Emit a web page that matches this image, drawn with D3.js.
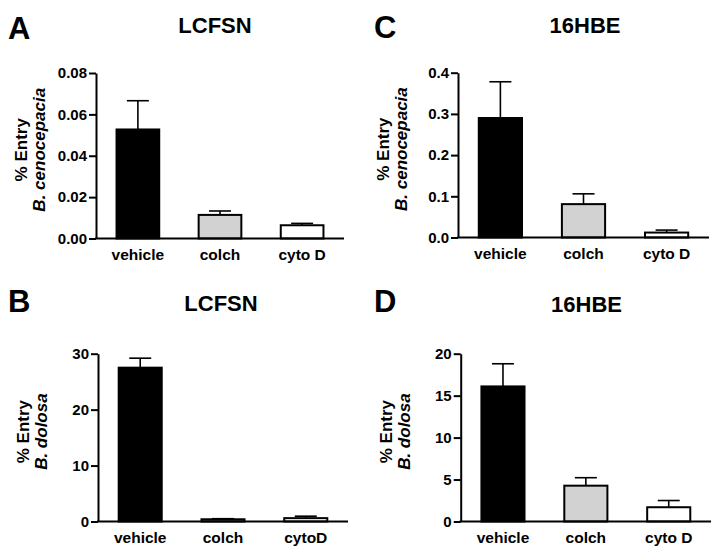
<!DOCTYPE html>
<html>
<head>
<meta charset="utf-8">
<script src="https://cdn.jsdelivr.net/npm/d3@7"></script>
<style>
  html, body { margin: 0; padding: 0; background: #fff; }
  svg { display: block; }
  text { font-family: "Liberation Sans", Arial, sans-serif; font-weight: bold; fill: #000; }
</style>
</head>
<body>
<svg id="chart" width="724" height="554"></svg>
<script>
// ---- data ----
const categoriesA = ["vehicle", "colch", "cyto D"];
const categoriesB = ["vehicle", "colch", "cytoD"];
const categoriesC = ["vehicle", "colch", "cyto D"];
const categoriesD = ["vehicle", "colch", "cyto D"];

const meanA = [0.0527, 0.0114, 0.0064];
const semA  = [0.0139, 0.0019, 0.0009];
const meanB = [27.5, 0.4, 0.6];
const semB  = [1.7, 0.1, 0.35];
const meanC = [0.29, 0.081, 0.012];
const semC  = [0.088, 0.025, 0.006];
const meanD = [16.1, 4.27, 1.7];
const semD  = [2.7, 0.95, 0.8];

const ticksA = [0, 0.02, 0.04, 0.06, 0.08];
const ticksB = [0, 10, 20, 30];
const ticksC = [0, 0.1, 0.2, 0.3, 0.4];
const ticksD = [0, 5, 10, 15, 20];

const barFills = ["#000000", "#d2d2d2", "#ffffff"];

const panels = [
  { letter: "A", title: "LCFSN", species: "B. cenocepacia", cats: categoriesA, mean: meanA, sem: semA, ticks: ticksA, fmt: ".2f",
    x0: 96, x1: 344, yTop: 73, yBot: 238.5, titleX: 215, titleY: 33, letterX: 8, letterY: 39 },
  { letter: "C", title: "16HBE", species: "B. cenocepacia", cats: categoriesC, mean: meanC, sem: semC, ticks: ticksC, fmt: ".1f",
    x0: 458, x1: 709, yTop: 72.7, yBot: 237.5, titleX: 585, titleY: 33, letterX: 374, letterY: 38 },
  { letter: "B", title: "LCFSN", species: "B. dolosa", cats: categoriesB, mean: meanB, sem: semB, ticks: ticksB, fmt: "d",
    x0: 98, x1: 348, yTop: 353.7, yBot: 521.5, titleX: 221, titleY: 311, letterX: 8, letterY: 312 },
  { letter: "D", title: "16HBE", species: "B. dolosa", cats: categoriesD, mean: meanD, sem: semD, ticks: ticksD, fmt: "d",
    x0: 460.7, x1: 711, yTop: 353.7, yBot: 521.5, titleX: 586.5, titleY: 312, letterX: 374, letterY: 312 }
];

const svg = d3.select("#chart");

panels.forEach(p => {
  const g = svg.append("g");
  const x = d3.scaleBand().domain(p.cats).range([p.x0, p.x1]).paddingInner(0.48).paddingOuter(0.25);
  const y = d3.scaleLinear().domain([p.ticks[0], p.ticks[p.ticks.length - 1]]).range([p.yBot, p.yTop]);

  // panel letter & title
  g.append("text").attr("x", p.letterX).attr("y", p.letterY)
    .style("font-size", "31px").text(p.letter);
  g.append("text").attr("x", p.titleX).attr("y", p.titleY)
    .attr("text-anchor", "middle").style("font-size", "22px").text(p.title);

  // y axis
  const yAxis = d3.axisLeft(y).tickValues(p.ticks).tickFormat(d3.format(p.fmt))
    .tickSize(7).tickSizeOuter(0).tickPadding(2);
  const ya = g.append("g").attr("transform", `translate(${p.x0},0)`).call(yAxis);
  ya.select(".domain").attr("stroke", "#000").attr("stroke-width", 2);
  ya.selectAll(".tick line").attr("stroke", "#000").attr("stroke-width", 2);
  ya.selectAll(".tick text").style("font-size", "15px").style("font-family", "'Liberation Sans', Arial, sans-serif")
    .style("font-weight", "bold").attr("fill", "#000");

  // y axis title
  const midY = (p.yTop + p.yBot) / 2 - 6;
  g.append("text")
    .attr("transform", `translate(${p.x0 - 75},${midY}) rotate(-90)`)
    .attr("text-anchor", "middle").attr("dy", "0.35em")
    .style("font-size", "17px").text("% Entry");
  g.append("text")
    .attr("transform", `translate(${p.x0 - 57},${midY}) rotate(-90)`)
    .attr("text-anchor", "middle").attr("dy", "0.35em")
    .style("font-size", "17px").style("font-style", "italic").text(p.species);

  // error bars (upper only)
  const errs = g.append("g");
  p.cats.forEach((c, i) => {
    const cx = x(c) + x.bandwidth() / 2;
    const top = y(p.mean[i] + p.sem[i]);
    errs.append("line").attr("x1", cx).attr("x2", cx).attr("y1", y(p.mean[i])).attr("y2", top)
      .attr("stroke", "#000").attr("stroke-width", 1.6);
    errs.append("line").attr("x1", cx - 11).attr("x2", cx + 11).attr("y1", top).attr("y2", top)
      .attr("stroke", "#000").attr("stroke-width", 1.6);
  });

  // bars
  g.append("g").selectAll("rect").data(p.cats).join("rect")
    .attr("x", d => x(d))
    .attr("width", x.bandwidth())
    .attr("y", (d, i) => y(p.mean[i]))
    .attr("height", (d, i) => p.yBot - y(p.mean[i]))
    .attr("fill", (d, i) => barFills[i])
    .attr("stroke", "#000").attr("stroke-width", 2);

  // x axis line
  g.append("line").attr("x1", p.x0 - 1).attr("x2", p.x1).attr("y1", p.yBot).attr("y2", p.yBot)
    .attr("stroke", "#000").attr("stroke-width", 2);

  // category labels
  g.append("g").selectAll("text").data(p.cats).join("text")
    .attr("x", d => x(d) + x.bandwidth() / 2)
    .attr("y", p.yBot + 21)
    .attr("text-anchor", "middle")
    .style("font-size", "15.5px")
    .text(d => d);
});
</script>
</body>
</html>
